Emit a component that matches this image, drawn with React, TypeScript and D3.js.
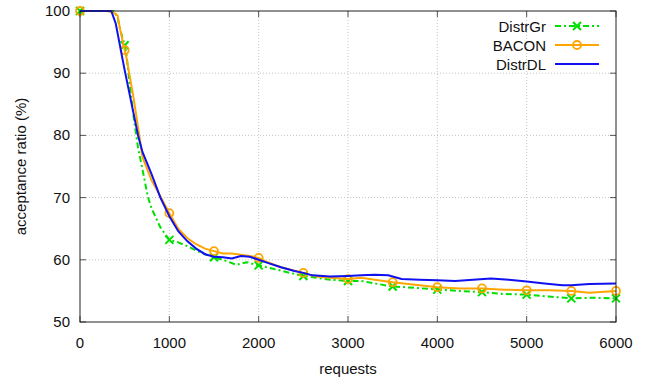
import React, { useRef, useEffect } from "react";
import * as d3 from "d3";

// x ticks / y ticks
const xTicks = [0, 1000, 2000, 3000, 4000, 5000, 6000];
const yTicks = [50, 60, 70, 80, 90, 100];

// DistrGr (green, markers every 500)
const distrGrX = [0, 380, 420, 450, 480, 500, 520, 550, 600, 650, 700, 760, 800, 900, 1000, 1100, 1200, 1300, 1400, 1500, 1600, 1750, 1870, 2000, 2150, 2320, 2500, 2650, 2800, 3000, 3150, 3300, 3500, 3750, 4000, 4250, 4500, 4750, 5000, 5250, 5500, 5750, 6000];
const distrGrY = [100, 100, 99, 97, 95.5, 94.5, 93, 89, 83, 78, 74.5, 70.1, 68.3, 65.2, 63.2, 62.8, 62.2, 61.5, 60.9, 60.4, 60.0, 59.2, 59.6, 59.1, 58.6, 58.0, 57.4, 57.1, 56.8, 56.6, 56.6, 56.2, 55.7, 55.5, 55.2, 55.0, 54.8, 54.5, 54.4, 54.1, 53.8, 53.9, 53.8];

// BACON (orange, markers every 500)
const baconX = [0, 300, 380, 420, 450, 480, 500, 520, 600, 700, 800, 900, 1000, 1100, 1200, 1300, 1400, 1500, 1600, 1700, 1800, 1900, 2000, 2100, 2250, 2500, 2650, 2800, 3000, 3150, 3300, 3500, 3750, 4000, 4250, 4500, 4750, 5000, 5250, 5500, 5700, 6000];
const baconY = [100, 100, 99.7, 99.3, 97, 95, 93.7, 92.5, 86, 76.5, 72.8, 70.2, 67.5, 65, 63.5, 62.5, 61.8, 61.4, 61.0, 61.0, 60.8, 60.6, 60.3, 59.6, 58.8, 57.9, 57.3, 57.1, 56.9, 57.1, 56.8, 56.4, 56.0, 55.6, 55.4, 55.4, 55.2, 55.1, 55.1, 55.0, 54.7, 55.0];

// DistrDL (blue, no markers)
const distrDLX = [0, 350, 400, 500, 600, 650, 700, 800, 900, 1000, 1100, 1200, 1300, 1400, 1500, 1600, 1700, 1800, 1900, 2000, 2100, 2250, 2400, 2500, 2600, 2800, 3000, 3150, 3300, 3450, 3600, 3800, 4000, 4200, 4400, 4600, 4800, 5000, 5200, 5400, 5500, 5700, 6000];
const distrDLY = [100, 100, 98, 90.5, 83.5, 80, 77.3, 73.8, 70, 67, 64.6, 63, 61.8, 60.9, 60.5, 60.4, 60.2, 60.6, 60.5, 60, 59.5, 58.8, 58.2, 57.9, 57.5, 57.3, 57.4, 57.5, 57.6, 57.5, 56.9, 56.8, 56.7, 56.6, 56.8, 57.0, 56.8, 56.5, 56.2, 55.9, 55.9, 56.1, 56.2];

const GREEN = "#00e000";
const ORANGE = "#ffa500";
const BLUE = "#1010f0";
const FONT = "Liberation Sans, Arial, sans-serif";

export default function App() {
  const svgRef = useRef(null);

  useEffect(() => {
    document.body.style.margin = "0";
    const W = 653, H = 384;
    const svg = d3.select(svgRef.current).attr("width", W).attr("height", H);
    svg.selectAll("*").remove();

    const margin = { top: 11, right: 37, bottom: 62, left: 80 };
    const innerW = W - margin.left - margin.right;
    const innerH = H - margin.top - margin.bottom;

    const x = d3.scaleLinear().domain([0, 6000]).range([0, innerW]);
    const y = d3.scaleLinear().domain([50, 100]).range([innerH, 0]);

    const g = svg.append("g").attr("transform", `translate(${margin.left},${margin.top})`);

    // grid
    g.append("g")
      .selectAll("line")
      .data(xTicks.slice(1, -1))
      .join("line")
        .attr("x1", d => x(d)).attr("x2", d => x(d))
        .attr("y1", 0).attr("y2", innerH)
        .attr("stroke", "#c4c4c4")
        .attr("stroke-dasharray", "1,2");
    g.append("g")
      .selectAll("line")
      .data(yTicks.slice(1, -1))
      .join("line")
        .attr("x1", 0).attr("x2", innerW)
        .attr("y1", d => y(d)).attr("y2", d => y(d))
        .attr("stroke", "#c4c4c4")
        .attr("stroke-dasharray", "1,2");

    // ticks on all four sides, pointing inward
    const tk = 6;
    const ticks = g.append("g").attr("stroke", "#555").attr("stroke-width", 1);
    xTicks.forEach(t => {
      ticks.append("line").attr("x1", x(t)).attr("x2", x(t)).attr("y1", innerH).attr("y2", innerH - tk);
      ticks.append("line").attr("x1", x(t)).attr("x2", x(t)).attr("y1", 0).attr("y2", tk);
    });
    yTicks.forEach(t => {
      ticks.append("line").attr("x1", 0).attr("x2", tk).attr("y1", y(t)).attr("y2", y(t));
      ticks.append("line").attr("x1", innerW).attr("x2", innerW - tk).attr("y1", y(t)).attr("y2", y(t));
    });

    // tick labels
    g.append("g")
      .selectAll("text")
      .data(xTicks)
      .join("text")
        .attr("x", d => x(d))
        .attr("y", innerH + 26)
        .attr("text-anchor", "middle")
        .attr("font-size", "15px")
        .attr("font-family", FONT)
        .attr("fill", "#111")
        .text(d => d);
    g.append("g")
      .selectAll("text")
      .data(yTicks)
      .join("text")
        .attr("x", -10)
        .attr("y", d => y(d) + 5)
        .attr("text-anchor", "end")
        .attr("font-size", "15px")
        .attr("font-family", FONT)
        .attr("fill", "#111")
        .text(d => d);

    // axis labels
    svg.append("text")
      .attr("x", margin.left + innerW / 2)
      .attr("y", 374)
      .attr("text-anchor", "middle")
      .attr("font-size", "15px")
      .attr("font-family", FONT)
      .attr("fill", "#111")
      .text("requests");
    svg.append("text")
      .attr("transform", "rotate(-90)")
      .attr("x", -(margin.top + innerH / 2))
      .attr("y", 26)
      .attr("text-anchor", "middle")
      .attr("font-size", "15px")
      .attr("font-family", FONT)
      .attr("fill", "#111")
      .text("acceptance ratio (%)");

    const line = d3.line().x(d => x(d[0])).y(d => y(d[1]));
    const zip = (xs, ys) => xs.map((v, i) => [v, ys[i]]);

    const gr = zip(distrGrX, distrGrY);
    const bc = zip(baconX, baconY);
    const dl = zip(distrDLX, distrDLY);

    const plot = g.append("g");

    const drawX = (sel, cx, cy) => {
      const s = 4;
      sel.append("path")
        .attr("d", `M${cx - s},${cy - s}L${cx + s},${cy + s}M${cx - s},${cy + s}L${cx + s},${cy - s}`)
        .attr("stroke", GREEN).attr("stroke-width", 2).attr("fill", "none");
    };
    const drawO = (sel, cx, cy) => {
      sel.append("circle").attr("cx", cx).attr("cy", cy).attr("r", 4)
        .attr("stroke", ORANGE).attr("stroke-width", 1.8).attr("fill", "none");
    };

    plot.append("path").datum(gr).attr("d", line)
      .attr("fill", "none").attr("stroke", GREEN).attr("stroke-width", 2)
      .attr("stroke-dasharray", "6,3,2,3");
    gr.filter(d => d[0] % 500 === 0).forEach(d => drawX(plot, x(d[0]), y(d[1])));

    plot.append("path").datum(bc).attr("d", line)
      .attr("fill", "none").attr("stroke", ORANGE).attr("stroke-width", 2);
    bc.filter(d => d[0] % 500 === 0).forEach(d => drawO(plot, x(d[0]), y(d[1])));

    plot.append("path").datum(dl).attr("d", line)
      .attr("fill", "none").attr("stroke", BLUE).attr("stroke-width", 2);

    // frame
    g.append("rect")
      .attr("x", 0).attr("y", 0).attr("width", innerW).attr("height", innerH)
      .attr("fill", "none").attr("stroke", "#222").attr("stroke-width", 1);

    // legend
    const legend = [
      { name: "DistrGr", color: GREEN, dash: "6,3,2,3", mark: "x" },
      { name: "BACON", color: ORANGE, dash: null, mark: "o" },
      { name: "DistrDL", color: BLUE, dash: null, mark: null },
    ];
    const lg = svg.append("g");
    legend.forEach((d, i) => {
      const ly = 26 + i * 19;
      lg.append("text")
        .attr("x", 546).attr("y", ly + 6)
        .attr("text-anchor", "end")
        .attr("font-size", "15px")
        .attr("font-family", FONT)
        .attr("fill", "#111")
        .text(d.name);
      lg.append("line")
        .attr("x1", 555).attr("x2", 599).attr("y1", ly).attr("y2", ly)
        .attr("stroke", d.color).attr("stroke-width", 2)
        .attr("stroke-dasharray", d.dash);
      if (d.mark === "x") drawX(lg, 577, ly);
      if (d.mark === "o") drawO(lg, 577, ly);
    });
  }, []);

  return <svg ref={svgRef} style={{ display: "block" }} />;
}
